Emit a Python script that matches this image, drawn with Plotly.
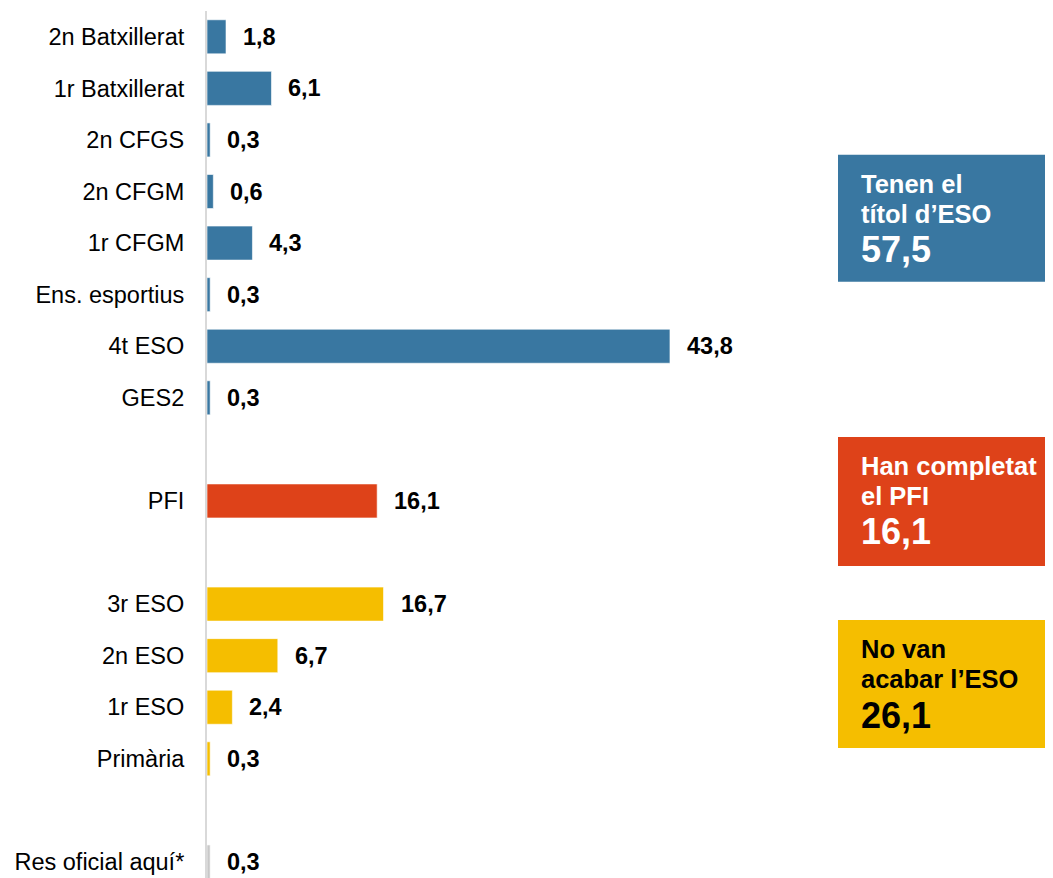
import plotly.graph_objects as go

categories = ["2n Batxillerat", "1r Batxillerat", "2n CFGS", "2n CFGM", "1r CFGM",
              "Ens. esportius", "4t ESO", "GES2", " ", "PFI", "  ",
              "3r ESO", "2n ESO", "1r ESO", "Primària", "   ", "Res oficial aquí*"]
values = [1.8, 6.1, 0.3, 0.6, 4.3, 0.3, 43.8, 0.3, None, 16.1, None,
          16.7, 6.7, 2.4, 0.3, None, 0.3]
groups = ["eso", "eso", "eso", "eso", "eso", "eso", "eso", "eso", None, "pfi", None,
          "no", "no", "no", "no", None, "res"]
value_labels = ["1,8", "6,1", "0,3", "0,6", "4,3", "0,3", "43,8", "0,3", "", "16,1", "",
                "16,7", "6,7", "2,4", "0,3", "", "0,3"]

box_titles = [["Tenen el", "títol d’ESO"], ["Han completat", "el PFI"], ["No van", "acabar l’ESO"]]
box_totals = ["57,5", "16,1", "26,1"]

colors = {"eso": "#3977a1", "pfi": "#de4219", "no": "#f5be00", "res": "#c8c8c8", None: "rgba(0,0,0,0)"}
box_colors = ["#3977a1", "#de4219", "#f5be00"]
box_text_colors = ["white", "white", "black"]

FONT = "Liberation Sans, Arial, sans-serif"
PX_PER_UNIT = 10.57
OFF = 8  # page body margin
L = 207
W = 1053
H = 878
xmax = (W - L) / PX_PER_UNIT
row = 51.56
top_center = 37

def ypos(py):
    return (py - top_center) / row

fig = go.Figure()
fig.add_trace(go.Bar(
    y=categories, x=values, orientation="h",
    marker=dict(color=[colors[g] for g in groups],
                line=dict(color="rgba(255,255,255,0.6)", width=1)),
    hoverinfo="skip",
))

for c, v, t in zip(categories, values, value_labels):
    if v is None:
        continue
    fig.add_annotation(x=v, y=c, text=f"<b>{t}</b>", xref="x", yref="y",
                       xanchor="left", yanchor="middle", xshift=15, showarrow=False,
                       font=dict(family=FONT, size=23.5, color="black"))

# boxes: (top, bottom) in pixels
box_px = [(155, 282), (437, 566), (620, 748)]
line1_centers = [184, 466, 649]
line_gap = 30
total_centers = [250, 532, 716]
bx0 = (838 - L) / PX_PER_UNIT
tx = (859 - L) / PX_PER_UNIT
for i, (t0, t1) in enumerate(box_px):
    fig.add_shape(type="rect", xref="x", yref="y", x0=bx0, x1=xmax + 1,
                  y0=ypos(t0), y1=ypos(t1), fillcolor=box_colors[i], line=dict(width=0),
                  layer="below")
    for j, line in enumerate(box_titles[i]):
        fig.add_annotation(x=tx, y=ypos(line1_centers[i] + j * line_gap), xref="x", yref="y",
                           text=f"<b>{line}</b>", align="left",
                           xanchor="left", yanchor="middle", showarrow=False,
                           font=dict(family=FONT, size=25.5, color=box_text_colors[i]))
    fig.add_annotation(x=tx, y=ypos(total_centers[i]), xref="x", yref="y",
                       text=f"<b>{box_totals[i]}</b>", align="left",
                       xanchor="left", yanchor="middle", showarrow=False,
                       font=dict(family=FONT, size=36, color=box_text_colors[i]))

fig.update_layout(
    width=W - OFF, height=H - OFF,
    margin=dict(l=L - OFF, r=0, t=11 - OFF, b=0),
    paper_bgcolor="white", plot_bgcolor="white",
    bargap=0.34, showlegend=False,
    font=dict(family=FONT, size=23.5, color="black"),
)
fig.update_xaxes(range=[0, xmax], visible=False, showgrid=False, zeroline=False)
fig.update_yaxes(type="category", categoryorder="array", categoryarray=categories,
                 range=[ypos(H), -0.5], showgrid=False, zeroline=False,
                 showline=True, linecolor="#d9d9d9", linewidth=2,
                 ticks="", ticklabelstandoff=16,
                 tickfont=dict(family=FONT, size=23.5, color="black"))

fig.write_html("out.html")
